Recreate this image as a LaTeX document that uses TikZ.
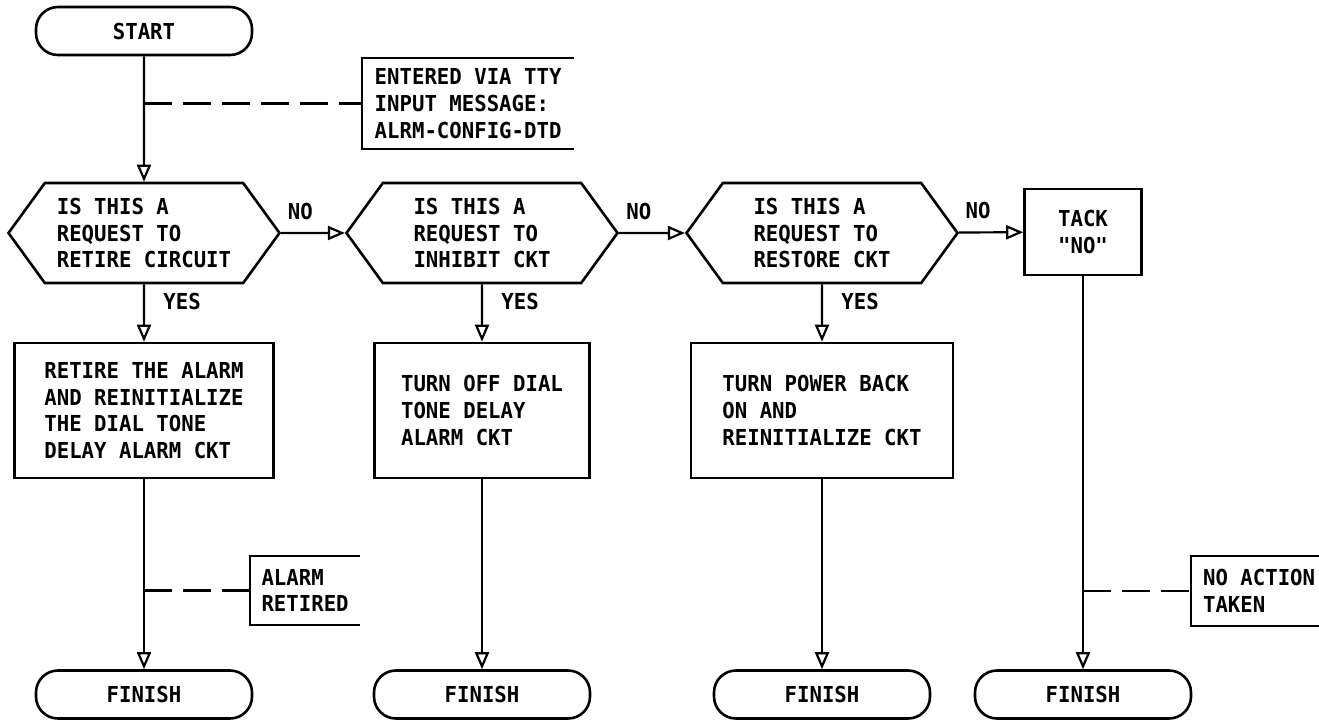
\documentclass[tikz,border=0pt]{standalone}
\usepackage{fontspec}
\newfontfamily\chartfont[FakeStretch=0.94]{DejaVu Sans Mono}
\usetikzlibrary{shapes.symbols,arrows.meta,positioning}

\tikzset{
  terminal/.style={draw,line width=2.6pt,rounded corners=22pt,minimum width=216pt,minimum height=48pt,inner sep=0pt},
  decision/.style={draw,line width=2.6pt,signal,signal to=west and east,signal pointer angle=108,
    minimum width=271pt,minimum height=100pt,align=left,inner sep=0pt},
  process/.style={draw,line width=2.6pt,minimum height=135pt,align=left},
  note/.style={anchor=west,align=left,inner sep=0pt},
  bracket/.style={line width=2.6pt},
  flow/.style={-{Triangle[open,length=17pt,width=14pt,line width=2.2pt]}},
  link/.style={dash pattern=on 28pt off 11pt},
}

\begin{document}
\begin{tikzpicture}[x=1pt,y=-1pt,line width=2.2pt,
  font=\chartfont\bfseries\fontsize{22}{26.7}\selectfont]
\useasboundingbox (0,0) rectangle (1319,724);

% main column
\node[terminal] (start) at (144,31) {START};
\node[decision] (q1) at (144,233) {IS THIS A\\REQUEST TO\\RETIRE CIRCUIT};
\node[process,minimum width=259pt] (a1) at (144,410.5) {RETIRE THE ALARM\\AND REINITIALIZE\\THE DIAL TONE\\DELAY ALARM CKT};
\node[terminal] (f1) at (144,694.5) {FINISH};

\node[decision] (q2) at (482,233) {IS THIS A\\REQUEST TO\\INHIBIT CKT};
\node[process,minimum width=215pt] (a2) at (482,410.5) {TURN OFF DIAL\\TONE DELAY\\ALARM CKT};
\node[terminal] (f2) at (482,694.5) {FINISH};

\node[decision] (q3) at (822,233) {IS THIS A\\REQUEST TO\\RESTORE CKT};
\node[process,minimum width=262pt] (a3) at (822,410.5) {TURN POWER BACK\\ON AND\\REINITIALIZE CKT};
\node[terminal] (f3) at (822,694.5) {FINISH};

\node[draw,line width=2.6pt,minimum width=117pt,minimum height=86pt,align=left] (tack) at (1083,232) {TACK\\"NO"};
\node[terminal] (f4) at (1083,694.5) {FINISH};

% notes
\node[note,minimum width=210pt,minimum height=89pt] (m1) at (362,103.5) {ENTERED VIA TTY\\INPUT MESSAGE:\\ALRM-CONFIG-DTD};
\node[note,minimum width=108pt,minimum height=67pt] (m2) at (250,590.5) {ALARM\\RETIRED};
\node[note,minimum width=134pt,minimum height=68pt] (m3) at (1191,591) {NO ACTION\\TAKEN};
\coordinate (n1) at (144,103.5);
\coordinate (n2) at (144,590.5);
\coordinate (n3) at (1083,591);

\draw[flow] (start) -- (q1);
\draw[flow] (q1) -- node[above=9pt,pos=.3] {NO} (q2);
\draw[flow] (q2) -- node[above=9pt,pos=.3] {NO} (q3);
\draw[flow] (q3) -- node[above=9pt,pos=.3] {NO} (tack);
\draw[flow] (q1) -- node[right=15pt,pos=.3] {YES} (a1);
\draw[flow] (q2) -- node[right=15pt,pos=.3] {YES} (a2);
\draw[flow] (q3) -- node[right=15pt,pos=.3] {YES} (a3);
\draw[flow] (a1) -- (f1);
\draw[flow] (a2) -- (f2);
\draw[flow] (a3) -- (f3);
\draw[flow] (tack) -- (f4);

\foreach \n/\m in {n1/m1,n2/m2,n3/m3} {
  \draw[link] (\n) -- (\m.west);
  \draw[bracket] (\m.north east) -- (\m.north west) -- (\m.south west) -- (\m.south east);
}
\end{tikzpicture}
\end{document}
